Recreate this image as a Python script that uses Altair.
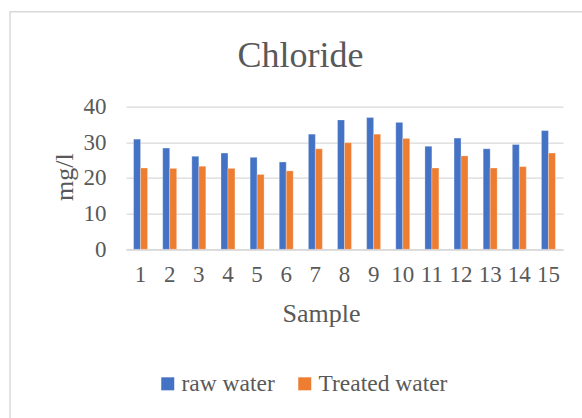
import altair as alt
import pandas as pd

samples = [str(i) for i in range(1, 16)]
raw_water = [30.9, 28.4, 26.1, 27.0, 25.8, 24.5, 32.3, 36.3, 37.0, 35.6, 28.9, 31.2, 28.2, 29.4, 33.3]
treated_water = [22.8, 22.7, 23.3, 22.7, 21.0, 22.0, 28.2, 29.9, 32.3, 31.1, 22.8, 26.2, 22.8, 23.2, 27.0]
series_names = ["raw water", "Treated water"]
series_colors = ["#4472C4", "#ED7D31"]
chart_title = "Chloride"

rows = []
for s, r, t in zip(samples, raw_water, treated_water):
    rows.append({"Sample": s, "Series": series_names[0], "Value": r})
    rows.append({"Sample": s, "Series": series_names[1], "Value": t})
df = pd.DataFrame(rows)

FONT = "Liberation Serif, Times New Roman, serif"
TEXT = "#595959"
GRID = "#D9D9D9"

bars = alt.Chart(df).mark_bar(stroke="white", strokeWidth=0.5, strokeOpacity=0.6).encode(
    x=alt.X(
        "Sample:O",
        sort=samples,
        scale=alt.Scale(paddingInner=0.52, paddingOuter=0.26),
        axis=alt.Axis(
            title="Sample",
            labelAngle=0,
            labelFont=FONT,
            labelFontSize=23,
            labelPadding=14,
            tickSize=0,
            ticks=False,
            domainColor=GRID,
            domainWidth=1.5,
            titleFont=FONT,
            titleFontSize=26,
            titleFontWeight="normal",
            titleX=195,
            titleY=72.4,
            titleBaseline="alphabetic",
            titleAlign="center",
        ),
    ),
    xOffset=alt.XOffset(
        "Series:N",
        sort=series_names,
        scale=alt.Scale(paddingInner=0, paddingOuter=0),
    ),
    y=alt.Y(
        "Value:Q",
        scale=alt.Scale(domain=[0, 40], nice=False),
        axis=alt.Axis(
            title="mg/l",
            values=[0, 10, 20, 30, 40],
            labelFont=FONT,
            labelFontSize=23,
            labelPadding=20,
            tickSize=0,
            ticks=False,
            domain=False,
            gridColor=GRID,
            gridWidth=1.2,
            titleFont=FONT,
            titleFontSize=26,
            titleFontWeight="normal",
            titleAngle=270,
            titleX=-62,
            titleY=70,
            titleAlign="center",
            titleBaseline="middle",
        ),
    ),
    color=alt.Color(
        "Series:N",
        sort=series_names,
        scale=alt.Scale(domain=series_names, range=series_colors),
        legend=alt.Legend(
            title=None,
            orient="none",
            legendX=30,
            legendY=265,
            direction="horizontal",
            columns=2,
            symbolType="square",
            symbolSize=169,
            symbolStrokeWidth=0,
            symbolOpacity=1,
            labelFont=FONT,
            labelColor=TEXT,
            labelFontSize=23.5,
            labelOffset=2,
            columnPadding=18,
        ),
    ),
)

frame = alt.Chart(alt.Data(values=[{"k": 1}])).mark_rect(
    fill=None, stroke=GRID, strokeWidth=1.5
).encode(
    x=alt.value(-116), x2=alt.value(600), y=alt.value(-95), y2=alt.value(420)
)

title_text = alt.Chart(alt.Data(values=[{"t": chart_title}])).mark_text(
    font=FONT, fontSize=36, color=TEXT, align="center", baseline="alphabetic"
).encode(
    x=alt.value(174.5), y=alt.value(-40), text="t:N"
)

chart = (
    alt.layer(frame, bars, title_text)
    .properties(
        width=437,
        height=142.6,
        padding={"left": 126, "top": 106.7, "right": 19, "bottom": 169},
        autosize=alt.AutoSizeParams(type="none"),
        background="white",
    )
    .configure(font=FONT)
    .configure_view(stroke=None)
    .configure_axis(labelColor=TEXT, titleColor=TEXT, labelFont=FONT, titleFont=FONT)
    .configure_legend(labelFont=FONT, labelColor=TEXT)
)

chart.save("out.html", embed_options={"renderer": "svg", "actions": False})
